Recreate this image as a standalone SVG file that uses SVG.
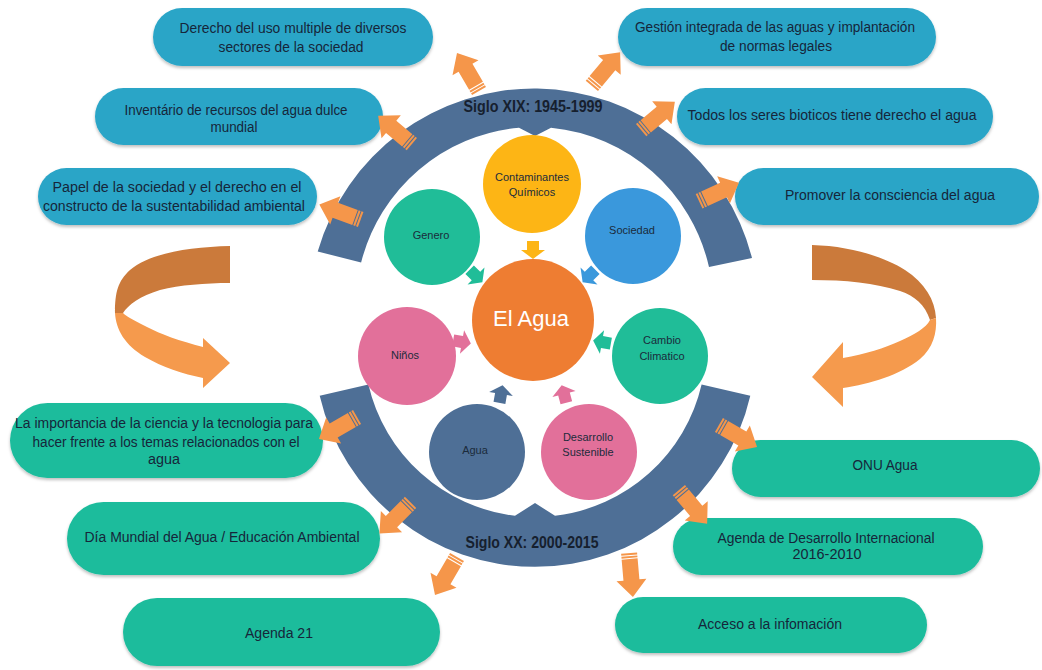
<svg xmlns="http://www.w3.org/2000/svg" width="1042" height="670" viewBox="0 0 1042 670">
  <defs>
    <filter id="sh" x="-10%" y="-20%" width="120%" height="150%">
      <feDropShadow dx="0" dy="2" stdDeviation="1.5" flood-color="#000" flood-opacity="0.25"/>
    </filter>
    <!-- striped block arrow, pointing along +x -->
    <g id="oarrow">
      <rect x="-22" y="-8" width="2" height="16"/>
      <rect x="-19" y="-8" width="2" height="16"/>
      <path d="M-16,-8 H5 V-15 L22,0 L5,15 V8 H-16 Z"/>
    </g>
    <!-- small block arrow, pointing along +x -->
    <path id="sarrow" d="M-9,-6 H0 V-12 L9,0 L0,12 V6 H-9 Z"/>
  </defs>
  <style>
    .blue { fill: #2AA5C7; filter: url(#sh); }
    .green { fill: #1CBC9C; filter: url(#sh); }
    .band { fill: #4E6F96; }
    .t { font-family: "Liberation Sans", Arial, sans-serif; font-size: 14px; fill: #16263A; text-anchor: middle; }
    .c { font-family: "Liberation Sans", Arial, sans-serif; font-size: 11px; fill: #1B2B3B; text-anchor: middle; }
    .era { font-family: "Liberation Sans", Arial, sans-serif; font-size: 17px; font-weight: bold; fill: #16202E; text-anchor: middle; }
    .oa { fill: #F5964A; }
  </style>

  <!-- timeline bands -->
  <g id="arc-top">
    <path class="band" d="M317.7,251.5 A225,225 0 0 1 752,258 L709,267 A180,180 0 0 0 551,127.7 L535,136 L519,127.7 A180,180 0 0 0 361.1,262.5 Z"/>
    <text class="era" x="533" y="112" textLength="139" lengthAdjust="spacingAndGlyphs">Siglo XIX: 1945-1999</text>
  </g>
  <g id="arc-bottom">
    <path class="band" d="M319.7,395.7 A221,221 0 0 0 750.3,395.7 L701.6,384.5 A171,171 0 0 1 555,515.8 L535,503 L515,515.8 A171,171 0 0 1 368.4,384.5 Z"/>
    <text class="era" x="532" y="548" textLength="133" lengthAdjust="spacingAndGlyphs">Siglo XX: 2000-2015</text>
  </g>

  <!-- curved cycle arrows -->
  <g id="cycle-left">
    <path fill="#CB7A3B" d="M230,246 C190,247 150,253 130,270 C118,281 115,292 115,313 L123,313 C128,305 140,296 160,290 C180,285 205,283 230,283 Z"/>
    <path fill="#F59A4D" d="M115,313 C116,330 125,345 145,357 C162,367 183,374 203,378 L203,388 L230,363 L203,338 L203,347 C180,341 160,334 147,327 C133,320 126,316 123,313 Z"/>
  </g>
  <g id="cycle-right">
    <path fill="#CB7A3B" d="M812,245 C850,246 885,257 905,270 C925,283 935,300 936,318 L930,320 C925,305 915,296 900,291 C875,283 845,280 812,280 Z"/>
    <path fill="#F59A4D" d="M936,318 C937,333 933,348 920,359 C900,375 870,384 843,388 L843,407 L812,377 L843,342 L843,358 C865,354 885,348 900,341 C915,334 926,328 930,320 Z"/>
  </g>

  <!-- central topics -->
  <g id="n-contaminantes">
    <circle cx="532" cy="184" r="49" fill="#FDB515"/>
    <text class="c" x="532" y="181">Contaminantes</text>
    <text class="c" x="532" y="196">Químicos</text>
  </g>
  <g id="n-genero">
    <circle cx="432" cy="237" r="48" fill="#20BD98"/>
    <text class="c" x="431" y="239">Genero</text>
  </g>
  <g id="n-sociedad">
    <circle cx="633" cy="236" r="48" fill="#3A98DC"/>
    <text class="c" x="632" y="234">Sociedad</text>
  </g>
  <g id="n-el-agua">
    <circle cx="533" cy="320" r="61" fill="#EE7D32"/>
    <text x="531" y="326" font-family="Liberation Sans, Arial, sans-serif" font-size="22" fill="#FFFFFF" text-anchor="middle">El Agua</text>
  </g>
  <g id="n-ninos">
    <circle cx="407" cy="356" r="49" fill="#E2709A"/>
    <text class="c" x="405" y="359">Niños</text>
  </g>
  <g id="n-cambio">
    <circle cx="660" cy="356" r="48" fill="#20BD98"/>
    <text class="c" x="662" y="344">Cambio</text>
    <text class="c" x="662" y="360">Climatico</text>
  </g>
  <g id="n-agua">
    <circle cx="477" cy="452" r="48" fill="#4E6F96"/>
    <text class="c" x="475" y="454">Agua</text>
  </g>
  <g id="n-desarrollo">
    <circle cx="589" cy="452" r="48" fill="#E2709A"/>
    <text class="c" x="588" y="441">Desarrollo</text>
    <text class="c" x="588" y="456">Sustenible</text>
  </g>

  <!-- outcome boxes, first period -->
  <g id="b-derecho">
    <rect class="blue" x="153" y="8" width="280" height="58" rx="29"/>
    <text class="t" x="293" y="33" textLength="227" lengthAdjust="spacingAndGlyphs">Derecho del uso multiple de diversos</text>
    <text class="t" x="291" y="52" textLength="145" lengthAdjust="spacingAndGlyphs">sectores de la sociedad</text>
  </g>
  <g id="b-gestion">
    <rect class="blue" x="618" y="8" width="318" height="58" rx="29"/>
    <text class="t" x="775" y="32" textLength="280" lengthAdjust="spacingAndGlyphs">Gestión integrada de las aguas y implantación</text>
    <text class="t" x="776" y="51" textLength="112" lengthAdjust="spacingAndGlyphs">de normas legales</text>
  </g>
  <g id="b-inventario">
    <rect class="blue" x="95" y="88" width="288" height="57" rx="28.5"/>
    <text class="t" x="236" y="115" textLength="223" lengthAdjust="spacingAndGlyphs">Inventário de recursos del agua dulce</text>
    <text class="t" x="234" y="132" textLength="47" lengthAdjust="spacingAndGlyphs">mundial</text>
  </g>
  <g id="b-papel">
    <rect class="blue" x="38" y="168" width="279" height="57" rx="28.5"/>
    <text class="t" x="177" y="192" textLength="249" lengthAdjust="spacingAndGlyphs">Papel de la sociedad y el derecho en el</text>
    <text class="t" x="174" y="211" textLength="262" lengthAdjust="spacingAndGlyphs">constructo de la sustentabilidad ambiental</text>
  </g>
  <g id="b-todos">
    <rect class="blue" x="677" y="88" width="316" height="57" rx="28.5"/>
    <text class="t" x="832" y="120" textLength="289" lengthAdjust="spacingAndGlyphs">Todos los seres bioticos tiene derecho el agua</text>
  </g>
  <g id="b-promover">
    <rect class="blue" x="735" y="168" width="304" height="57" rx="28.5"/>
    <text class="t" x="890" y="200" textLength="210" lengthAdjust="spacingAndGlyphs">Promover la consciencia del agua</text>
  </g>

  <!-- outcome boxes, second period -->
  <g id="g-importancia">
    <rect class="green" x="10" y="403" width="313" height="75" rx="37.5"/>
    <text class="t" x="164" y="428" textLength="298" lengthAdjust="spacingAndGlyphs">La importancia de la ciencia y la tecnologia para</text>
    <text class="t" x="166" y="447" textLength="267" lengthAdjust="spacingAndGlyphs">hacer frente a los temas relacionados con el</text>
    <text class="t" x="164" y="464" textLength="32" lengthAdjust="spacingAndGlyphs">agua</text>
  </g>
  <g id="g-dia">
    <rect class="green" x="67" y="502" width="313" height="73" rx="36.5"/>
    <text class="t" x="222" y="542" textLength="275" lengthAdjust="spacingAndGlyphs">Día Mundial del Agua / Educación Ambiental</text>
  </g>
  <g id="g-agenda21">
    <rect class="green" x="123" y="598" width="317" height="68" rx="34"/>
    <text class="t" x="279" y="638" textLength="68" lengthAdjust="spacingAndGlyphs">Agenda 21</text>
  </g>
  <g id="g-onu">
    <rect class="green" x="732" y="440" width="308" height="57" rx="28.5"/>
    <text class="t" x="885" y="470" textLength="65" lengthAdjust="spacingAndGlyphs">ONU Agua</text>
  </g>
  <g id="g-agenda-des">
    <rect class="green" x="673" y="518" width="310" height="57" rx="28.5"/>
    <text class="t" x="826" y="543" textLength="217" lengthAdjust="spacingAndGlyphs">Agenda de Desarrollo Internacional</text>
    <text class="t" x="827" y="559" textLength="69" lengthAdjust="spacingAndGlyphs">2016-2010</text>
  </g>
  <g id="g-acceso">
    <rect class="green" x="615" y="597" width="312" height="56" rx="28"/>
    <text class="t" x="770" y="629" textLength="144" lengthAdjust="spacingAndGlyphs">Acceso a la infomación</text>
  </g>

  <!-- connectors -->
  <g id="connectors">
    <!-- topics into the centre -->
    <use href="#sarrow" fill="#FDB515" transform="translate(533,250) rotate(90)"/>
    <use href="#sarrow" fill="#20BD98" transform="translate(476,276) rotate(45)"/>
    <use href="#sarrow" fill="#3A98DC" transform="translate(589,276) rotate(135)"/>
    <use href="#sarrow" fill="#E2709A" transform="translate(462,342) rotate(10)"/>
    <use href="#sarrow" fill="#20BD98" transform="translate(602,342) rotate(190)"/>
    <use href="#sarrow" fill="#4E6F96" transform="translate(501,394) rotate(-80)"/>
    <use href="#sarrow" fill="#E2709A" transform="translate(564,394) rotate(-105)"/>
    <!-- bands out to boxes -->
    <use href="#oarrow" class="oa" transform="translate(468,72) rotate(-120)"/>
    <use href="#oarrow" class="oa" transform="translate(606,69) rotate(-50)"/>
    <use href="#oarrow" class="oa" transform="translate(395,130) rotate(-140)"/>
    <use href="#oarrow" class="oa" transform="translate(340,212) rotate(-160)"/>
    <use href="#oarrow" class="oa" transform="translate(658,116) rotate(-40)"/>
    <use href="#oarrow" class="oa" transform="translate(719,192) rotate(-25)"/>
    <use href="#oarrow" class="oa" transform="translate(338,428) rotate(150)"/>
    <use href="#oarrow" class="oa" transform="translate(395,518) rotate(135)"/>
    <use href="#oarrow" class="oa" transform="translate(446,576) rotate(120)"/>
    <use href="#oarrow" class="oa" transform="translate(631,575) rotate(85)"/>
    <use href="#oarrow" class="oa" transform="translate(693,507) rotate(50)"/>
    <use href="#oarrow" class="oa" transform="translate(738,436) rotate(30)"/>
  </g>
</svg>
